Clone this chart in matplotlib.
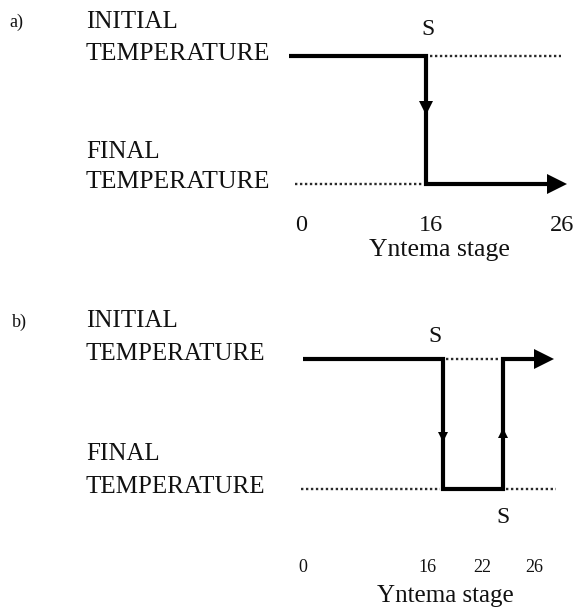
import matplotlib
matplotlib.use("Agg")
import matplotlib.pyplot as plt

# ---- data (schematic diagram, figure pixel units) ----
a_path_x = [289, 426, 426, 550]
a_path_y = [56, 56, 184, 184]
a_dot_top_x = [430, 561]
a_dot_bot_x = [295, 423]
a_tick_labels = ["0", "16", "26"]
a_tick_x = [301, 431, 562]

b_path_x = [303, 443, 443, 503, 503, 537]
b_path_y = [359, 359, 489, 489, 359, 359]
b_dot_top_x = [446, 500]
b_dot_bot_x = [[301, 440], [506, 556]]
b_tick_labels = ["0", "16", "22", "26"]
b_tick_x = [303, 427, 482, 534]

W, H = 577, 610
fig = plt.figure(figsize=(W / 100, H / 100), dpi=100)
ax = fig.add_axes([0, 0, 1, 1])
ax.set_xlim(0, W)
ax.set_ylim(H, 0)
ax.axis("off")

serif = ["Liberation Serif", "DejaVu Serif"]
lw_thick = 3.0
dot_style = dict(color="#2a2a2a", lw=1.7, linestyle=(0, (1, 1.1)))
txt = dict(family=serif, va="baseline", color="#111111")

# ---------- panel a ----------
ax.text(9, 27, "a)", fontsize=13, ha="left", **txt)
ax.text(86, 28, "INITIAL", fontsize=18, ha="left", **txt)
ax.text(86, 60, "TEMPERATURE", fontsize=18.5, ha="left", **txt)
ax.text(86, 158, "FINAL", fontsize=18, ha="left", **txt)
ax.text(86, 188, "TEMPERATURE", fontsize=18.5, ha="left", **txt)
ax.text(428, 35, "S", fontsize=17, ha="center", **txt)

ax.plot(a_dot_top_x, [a_path_y[0]] * 2, **dot_style)
ax.plot(a_dot_bot_x, [a_path_y[-1]] * 2, **dot_style)
ax.plot(a_path_x, a_path_y, color="black", lw=lw_thick, solid_capstyle="butt",
        solid_joinstyle="miter")
ax.plot([a_path_x[-1] + 7], [a_path_y[-1]], marker=">", color="black",
        markersize=14, markeredgewidth=0)
ax.plot([a_path_x[1]], [108], marker="v", color="black", markersize=10,
        markeredgewidth=0)
for lab, x in zip(a_tick_labels, a_tick_x):
    ax.text(x, 231, lab, fontsize=17.5, ha="center", **txt)
ax.text(439, 256, "Yntema stage", fontsize=18.5, ha="center", **txt)

# ---------- panel b ----------
ax.text(12, 327, "b)", fontsize=13, ha="left", **txt)
ax.text(86, 327, "INITIAL", fontsize=18, ha="left", **txt)
ax.text(86, 360, "TEMPERATURE", fontsize=18, ha="left", **txt)
ax.text(86, 460, "FINAL", fontsize=18, ha="left", **txt)
ax.text(86, 493, "TEMPERATURE", fontsize=18, ha="left", **txt)
ax.text(435, 342, "S", fontsize=17, ha="center", **txt)
ax.text(503, 523, "S", fontsize=17, ha="center", **txt)

ax.plot(b_dot_top_x, [b_path_y[0]] * 2, **dot_style)
for seg in b_dot_bot_x:
    ax.plot(seg, [b_path_y[2]] * 2, **dot_style)
ax.plot(b_path_x, b_path_y, color="black", lw=lw_thick, solid_capstyle="butt",
        solid_joinstyle="miter")
ax.plot([b_path_x[-1] + 7], [b_path_y[-1]], marker=">", color="black",
        markersize=14, markeredgewidth=0)
ax.plot([b_path_x[1]], [437], marker="v", color="black", markersize=7, markeredgewidth=0)
ax.plot([b_path_x[3]], [433], marker="^", color="black", markersize=7, markeredgewidth=0)
for lab, x in zip(b_tick_labels, b_tick_x):
    ax.text(x, 572, lab, fontsize=13, ha="center", **txt)
ax.text(445, 602, "Yntema stage", fontsize=18, ha="center", **txt)

fig.savefig("out.png", dpi=100)
